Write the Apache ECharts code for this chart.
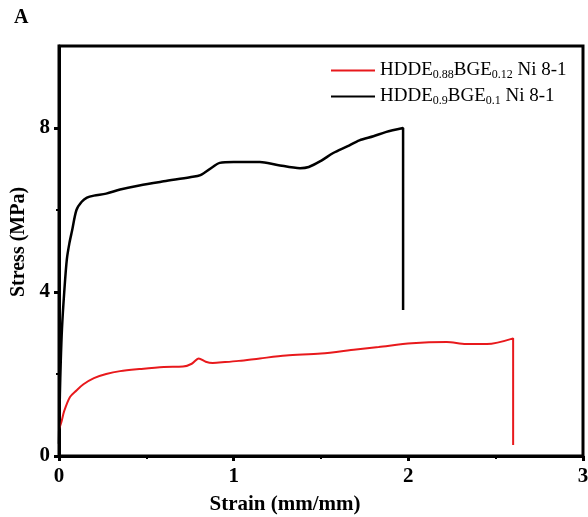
<!DOCTYPE html>
<html><head><meta charset="utf-8">
<script src="https://cdn.jsdelivr.net/npm/echarts@6/dist/echarts.min.js"></script>
<style>html,body{margin:0;padding:0;background:#fff}#c{width:588px;height:517px}</style>
</head><body><div id="c"></div>
<script>
var seriesNames = ['HDDE0.88BGE0.12 Ni 8-1', 'HDDE0.9BGE0.1 Ni 8-1'];
var legendLabels = ['HDDE{s|0.88}BGE{s|0.12} Ni 8-1', 'HDDE{s|0.9}BGE{s|0.1} Ni 8-1'];
var strainRed = [0,0.015,0.03,0.063,0.1,0.14,0.2,0.27,0.35,0.46,0.6,0.71,0.76,0.8,0.84,0.88,0.95,1.03,1.15,1.3,1.5,1.7,1.83,2.02,2.22,2.33,2.45,2.6,2.6];
var stressRed = [0.65,0.85,1.1,1.44,1.6,1.75,1.9,2.0,2.07,2.12,2.17,2.18,2.25,2.38,2.3,2.27,2.29,2.32,2.38,2.45,2.5,2.6,2.66,2.75,2.78,2.73,2.73,2.87,0.27];
var strainBlack = [0,0.005,0.01,0.017,0.03,0.045,0.06,0.075,0.1,0.13,0.16,0.2,0.27,0.35,0.46,0.6,0.75,0.81,0.88,0.92,1.0,1.15,1.25,1.38,1.43,1.5,1.57,1.65,1.72,1.8,1.87,1.97,1.97];
var stressBlack = [0.3,1.5,2.3,3.1,4.0,4.8,5.2,5.5,6.0,6.2,6.3,6.35,6.4,6.5,6.6,6.7,6.8,6.85,7.05,7.15,7.17,7.17,7.1,7.02,7.05,7.2,7.39,7.55,7.7,7.8,7.9,8.0,3.56];
var xTicks = [0,1,2,3];
var yTicks = [0,4,8];

function pairs(xs, ys){ return xs.map(function(x,i){return [x, ys[i]];}); }
var serif = '"Liberation Serif","DejaVu Serif",serif';
var chart = echarts.init(document.getElementById('c'));
chart.setOption({
  animation:false,
  graphic:[{type:'text', left:14, top:8, style:{text:'A', font:'bold 20px '+serif, fill:'#000'}}],
  grid:{left:59, top:46, right:5, bottom:61, show:true, borderColor:'#000', borderWidth:3, outerBoundsMode:'none', containLabel:false},
  legend:{
    orient:'vertical', left:326, top:55, itemWidth:44, itemHeight:2, itemGap:5, icon:'rect',
    data:seriesNames,
    formatter:function(n){ return legendLabels[seriesNames.indexOf(n)]; },
    textStyle:{fontFamily:serif, fontSize:19, color:'#000', lineHeight:21,
      rich:{s:{fontFamily:serif, fontSize:12, lineHeight:8, verticalAlign:'bottom', color:'#000'}}}
  },
  xAxis:{type:'value', min:0, max:3, interval:1,
    axisLine:{lineStyle:{color:'#000', width:3}},
    axisTick:{show:true, length:5, lineStyle:{width:3, color:'#000'}},
    minorTick:{show:true, splitNumber:2, length:3, lineStyle:{width:2, color:'#000'}},
    splitLine:{show:false},
    axisLabel:{fontFamily:serif, fontWeight:'bold', fontSize:21, color:'#000', margin:10},
    name:'Strain (mm/mm)', nameLocation:'middle', nameGap:38,
    nameTextStyle:{fontFamily:serif, fontWeight:'bold', fontSize:21, color:'#000', padding:[0,72,0,0]}
  },
  yAxis:{type:'value', min:0, max:10, interval:4,
    axisLine:{show:true, lineStyle:{color:'#000', width:3}},
    axisTick:{show:true, length:5, lineStyle:{width:3, color:'#000'}, customValues:yTicks},
    minorTick:{show:true, splitNumber:2, length:3, lineStyle:{width:2, color:'#000'}},
    splitLine:{show:false},
    axisLabel:{fontFamily:serif, fontWeight:'bold', fontSize:21, color:'#000', margin:9, customValues:yTicks},
    name:'Stress (MPa)', nameLocation:'middle', nameGap:30,
    nameTextStyle:{fontFamily:serif, fontWeight:'bold', fontSize:20, color:'#000', padding:[0,0,0,18]}
  },
  series:[
    {name:seriesNames[0], type:'line', data:pairs(strainRed, stressRed), showSymbol:false, smooth:0.3,
     color:'#e8191c', lineStyle:{width:2, color:'#e8191c'}},
    {name:seriesNames[1], type:'line', data:pairs(strainBlack, stressBlack), showSymbol:false, smooth:0.3,
     color:'#000', lineStyle:{width:2.5, color:'#000'}}
  ]
});
</script></body></html>
